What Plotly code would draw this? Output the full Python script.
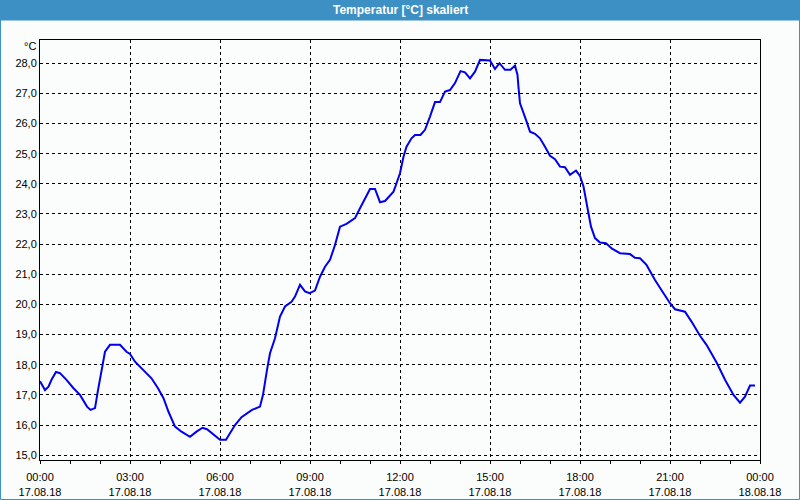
import plotly.graph_objects as go

# ---- data ----
times = ["00:00","00:10","00:17","00:23","00:32","00:40","00:53","01:07","01:20","01:34",
         "01:41","01:50","01:56","02:04","02:10","02:20","02:40","02:53","03:00","03:10",
         "03:26","03:43","03:56","04:07","04:17","04:30","04:43","05:00","05:13","05:25",
         "05:34","05:47","06:00","06:12","06:20","06:30","06:43","07:04","07:20","07:26",
         "07:34","07:40","07:50","08:00","08:10","08:23","08:30","08:40","08:50","08:59",
         "09:10","09:20","09:30","09:40","09:50","10:00","10:13","10:30","10:40","11:00",
         "11:10","11:20","11:30","11:47","11:53","12:00","12:07","12:13","12:23","12:30",
         "12:41","12:50","13:00","13:10","13:20","13:30","13:40","13:50","14:01","14:10",
         "14:20","14:30","14:40","14:50","15:00","15:10","15:19","15:30","15:41","15:50",
         "15:55","15:57","16:00","16:12","16:20","16:30","16:40","16:50","17:00","17:10",
         "17:20","17:30","17:40","17:52","18:00","18:07","18:14","18:22","18:30","18:40",
         "18:52","19:04","19:20","19:40","19:50","20:00","20:13","20:30","20:47","21:00",
         "21:10","21:30","21:43","22:00","22:13","22:34","22:50","23:07","23:20","23:30",
         "23:40","23:50"]
temps = [17.45,17.16,17.27,17.50,17.76,17.72,17.50,17.22,17.00,16.61,
         16.50,16.56,17.16,17.94,18.43,18.66,18.66,18.43,18.36,18.10,
         17.83,17.55,17.22,16.89,16.44,15.95,15.78,15.61,15.78,15.91,
         15.86,15.67,15.51,15.51,15.73,16.00,16.26,16.50,16.61,17.00,
         17.83,18.38,18.88,19.60,19.93,20.09,20.26,20.65,20.43,20.37,
         20.46,20.92,21.25,21.48,21.97,22.58,22.67,22.86,23.19,23.83,
         23.83,23.39,23.43,23.74,24.02,24.35,24.90,25.23,25.51,25.62,
         25.62,25.79,26.23,26.71,26.71,27.06,27.11,27.34,27.74,27.70,
         27.50,27.72,28.11,28.09,28.09,27.81,28.00,27.78,27.78,27.92,
         27.61,27.20,26.67,26.12,25.73,25.66,25.51,25.23,24.93,24.82,
         24.57,24.55,24.30,24.44,24.26,23.91,23.24,22.58,22.20,22.05,
         22.03,21.85,21.70,21.67,21.55,21.53,21.31,20.81,20.37,20.04,
         19.84,19.76,19.43,18.96,18.66,18.05,17.50,17.00,16.74,16.94,
         17.31,17.31]

x_tick_times = ["2018-08-17 00:00","2018-08-17 03:00","2018-08-17 06:00","2018-08-17 09:00",
                "2018-08-17 12:00","2018-08-17 15:00","2018-08-17 18:00","2018-08-17 21:00",
                "2018-08-18 00:00"]
x_tick_text = ["00:00<br>17.08.18","03:00<br>17.08.18","06:00<br>17.08.18","09:00<br>17.08.18",
               "12:00<br>17.08.18","15:00<br>17.08.18","18:00<br>17.08.18","21:00<br>17.08.18",
               "00:00<br>18.08.18"]
y_tick_vals = list(range(15, 29))
y_tick_text = [f"{v},0" for v in y_tick_vals]

title_text = "Temperatur [°C] skaliert"
unit_text = "°C"

x = ["2018-08-17 " + t for t in times]

FONT = "Liberation Sans"
BLUE_BAR = "#3d90c4"

fig = go.Figure()
fig.add_trace(go.Scatter(x=x, y=temps, mode="lines",
                         line=dict(color="#0000ee", width=2), showlegend=False))

W, H = 800, 500
L, R, T, B = 40, 40, 40, 40
pw, ph = W - L - R, H - T - B

def px_x(p):
    return (p - L) / pw

def px_y(p):
    return 1 - (p - T) / ph

fig.update_layout(
    width=W, height=H,
    margin=dict(l=L, r=R, t=T, b=B),
    paper_bgcolor="#fbfdfc",
    plot_bgcolor="#fbfdfc",
    font=dict(family=FONT, size=11, color="#000000"),
    xaxis=dict(
        type="date", automargin=False,
        range=["2018-08-17 00:00", "2018-08-18 00:00"],
        tickvals=x_tick_times, ticktext=x_tick_text,
        ticks="outside", ticklen=3, tickcolor="#000", tickwidth=1,
        ticklabelstandoff=4,
        showline=True, linecolor="#000", linewidth=1, mirror=True,
        showgrid=True, gridcolor="#000", gridwidth=1, griddash="3px,3px",
        minor=dict(dtick=3600000, ticks="outside", ticklen=3, tickcolor="#000",
                   showgrid=False),
        tickfont=dict(family=FONT, size=11, color="#000"),
        zeroline=False, fixedrange=True,
    ),
    yaxis=dict(
        automargin=False,
        range=[14.84, 28.77],
        tickvals=y_tick_vals, ticktext=y_tick_text,
        ticks="", showline=True, linecolor="#000", linewidth=1, mirror=True,
        showgrid=True, gridcolor="#000", gridwidth=1, griddash="3px,3px",
        tickfont=dict(family=FONT, size=11, color="#000"),
        zeroline=False, fixedrange=True,
    ),
    shapes=[
        dict(type="rect", xref="paper", yref="paper",
             x0=px_x(0), x1=px_x(W), y0=px_y(20), y1=px_y(0),
             fillcolor=BLUE_BAR, line=dict(width=0), layer="below"),
        dict(type="rect", xref="paper", yref="paper",
             x0=px_x(0.5), x1=px_x(W - 0.5), y0=px_y(H - 0.5), y1=px_y(20),
             fillcolor="rgba(0,0,0,0)", line=dict(color=BLUE_BAR, width=1), layer="below"),
    ],
    annotations=[
        dict(text="<b>" + title_text + "</b>", xref="paper", yref="paper",
             x=0.5, y=px_y(10), xanchor="center", yanchor="middle", showarrow=False,
             font=dict(family=FONT, size=12, color="#ffffff")),
        dict(text=unit_text, xref="paper", yref="paper",
             x=px_x(38), y=px_y(46), xanchor="right", yanchor="middle", showarrow=False,
             font=dict(family=FONT, size=11, color="#000")),
    ],
)

fig.write_html("out.html")
